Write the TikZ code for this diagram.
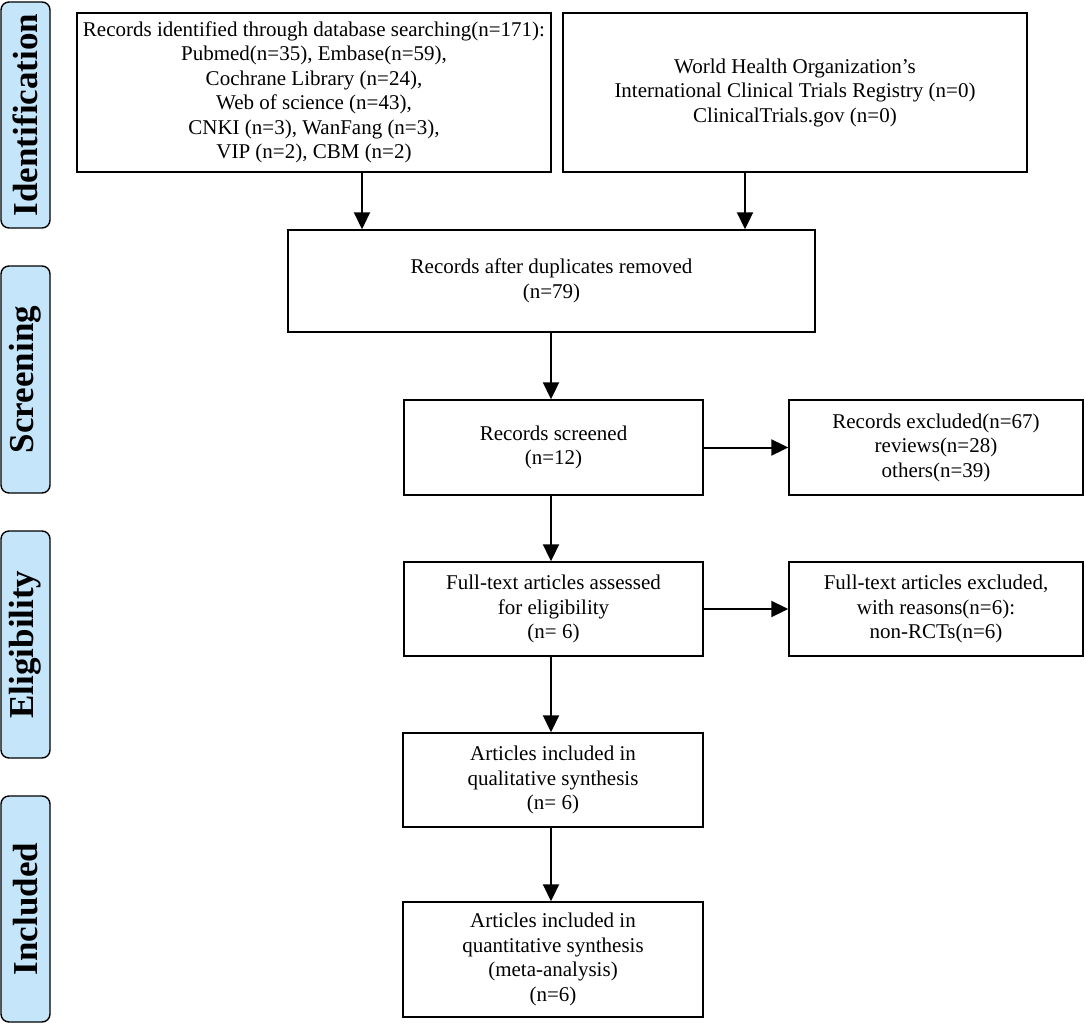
\documentclass[tikz,border=0pt]{standalone}
\usepackage{fontspec}
\setmainfont{Liberation Serif}
\usetikzlibrary{arrows.meta,calc}
\definecolor{lblue}{RGB}{197,230,250}
\begin{document}
\begin{tikzpicture}[x=1pt,y=-1pt,
  box/.style={draw=black,line width=1.4pt,inner sep=0pt,align=center,
    font=\fontsize{21}{24.5}\selectfont},
  stage/.style={draw=black,fill=lblue,line width=1.4pt,rounded corners=8pt,rotate=90,
    minimum height=49pt,inner sep=0pt,font=\fontsize{35}{38}\selectfont\bfseries},
  arr/.style={line width=2pt,-{Triangle[length=17pt,width=16pt]}}]
\useasboundingbox (0,0) rectangle (1086,1024);
% stage labels
\node[stage,minimum width=226pt] (s1) at (25.5,115) {Identification};
\node[stage,minimum width=227pt] (s2) at (25.5,379.5) {Screening};
\node[stage,minimum width=227pt] (s3) at (25.5,644.5) {Eligibility};
\node[stage,minimum width=226pt] (s4) at (25.5,909) {Included};
% boxes
\node[box,minimum width=474pt,minimum height=159pt] (b1) at (314,92.5)
  {Records identified through database searching(n=171):\\
   Pubmed(n=35), Embase(n=59),\\
   Cochrane Library (n=24),\\
   Web of science (n=43),\\
   CNKI (n=3), WanFang (n=3),\\
   VIP (n=2), CBM (n=2)};
\node[box,minimum width=464pt,minimum height=159pt] (b2) at (795,92.5)
  {World Health Organization’s\\
   International Clinical Trials Registry (n=0)\\
   ClinicalTrials.gov (n=0)};
\node[box,minimum width=527pt,minimum height=102pt] (b3) at (551.5,281)
  {Records after duplicates removed\\(n=79)};
\node[box,minimum width=299pt,minimum height=95pt] (b4) at (553.5,447.5)
  {Records screened\\(n=12)};
\node[box,minimum width=294pt,minimum height=95pt] (e1) at (936,447.5)
  {Records excluded(n=67)\\reviews(n=28)\\others(n=39)};
\node[box,minimum width=299pt,minimum height=94pt] (b5) at (553.5,609)
  {Full-text articles assessed\\for eligibility\\(n= 6)};
\node[box,minimum width=294pt,minimum height=94pt] (e2) at (936,609)
  {Full-text articles excluded,\\with reasons(n=6):\\non-RCTs(n=6)};
\node[box,minimum width=300pt,minimum height=94pt] (b6) at (553,780)
  {Articles included in\\qualitative synthesis\\(n= 6)};
\node[box,minimum width=300pt,minimum height=115pt] (b7) at (553,959.5)
  {Articles included in\\quantitative synthesis\\(meta-analysis)\\(n=6)};
% connectors
\coordinate (xa) at (362,0);
\coordinate (xb) at (745,0);
\coordinate (xc) at (551,0);
\draw[arr] (b1.south -| xa) -- (b3.north -| xa);
\draw[arr] (b2.south -| xb) -- (b3.north -| xb);
\draw[arr] (b3.south -| xc) -- (b4.north -| xc);
\draw[arr] (b4.east) -- (e1.west);
\draw[arr] (b4.south -| xc) -- (b5.north -| xc);
\draw[arr] (b5.east) -- (e2.west);
\draw[arr] (b5.south -| xc) -- (b6.north -| xc);
\draw[arr] (b6.south -| xc) -- (b7.north -| xc);
\end{tikzpicture}
\end{document}
